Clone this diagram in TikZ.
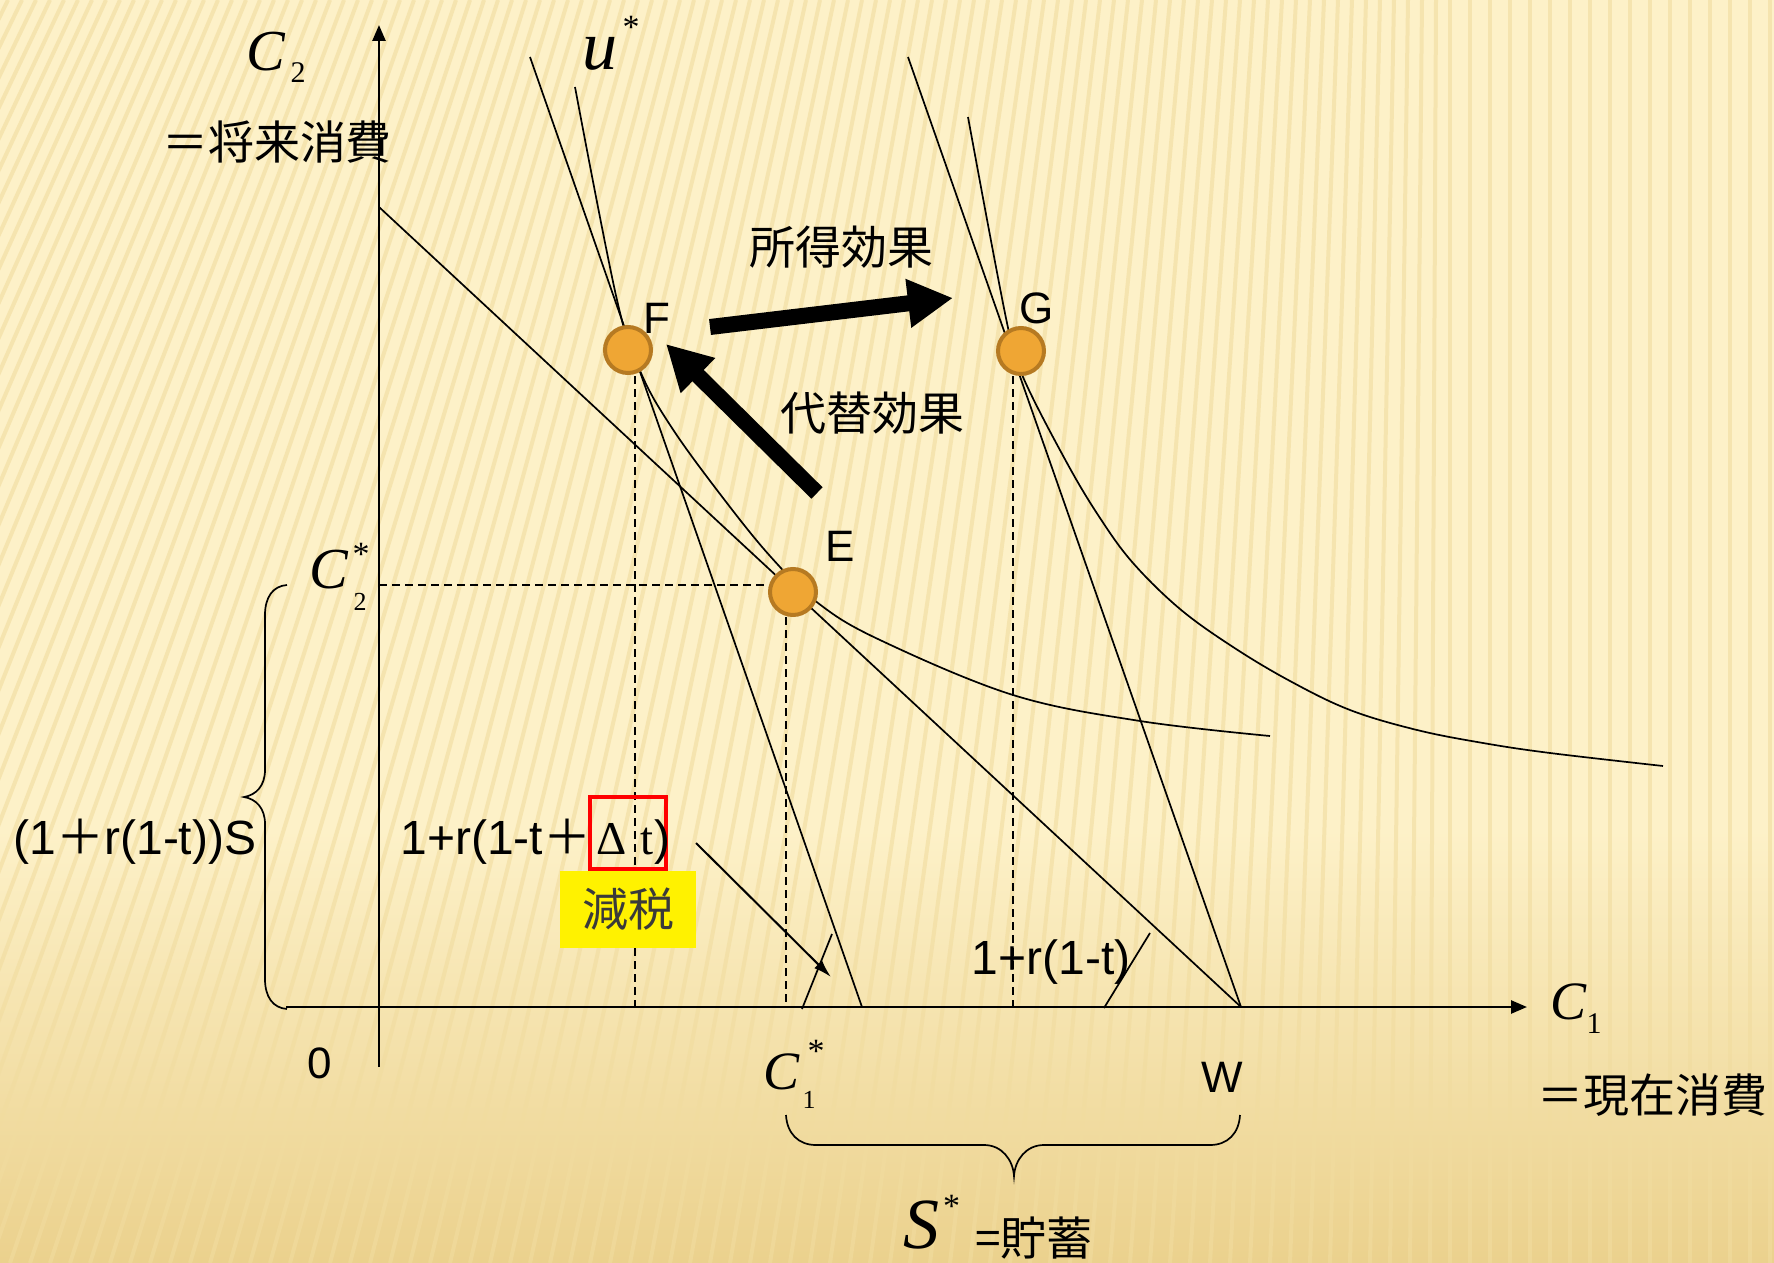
\documentclass[tikz,border=0pt]{standalone}
\usepackage{fontspec}
\usetikzlibrary{arrows.meta}
\newfontfamily\lsans{Liberation Sans}
\newfontfamily\lserif{Liberation Serif}
\newfontfamily\cjk{Noto Sans CJK JP}
\definecolor{bgA}{HTML}{FDF1C8}
\definecolor{bgB}{HTML}{EBD18D}
\definecolor{stripe}{HTML}{F1DC9F}
\definecolor{ptfill}{HTML}{EFA634}
\definecolor{ptedge}{HTML}{B67A22}
\definecolor{txtgray}{HTML}{3A3A3A}
\begin{document}
\begin{tikzpicture}[x=0.5pt,y=-0.5pt,
  thinline/.style={line width=0.85pt, black},
  axisline/.style={line width=1.3pt, -{Triangle[length=8pt,width=6.5pt]}},
  dashline/.style={line width=0.7pt, dash pattern=on 4pt off 2.5pt},
  bigarrow/.style={line width=8pt, -{Triangle[length=22.5pt,width=23pt]}},
  dot/.style={circle, fill=ptfill, draw=ptedge, line width=2pt, minimum size=23pt, inner sep=0pt},
  sanslbl/.style={inner sep=0pt, font=\lsans\fontsize{22}{26}\selectfont},
  formlbl/.style={inner sep=0pt, font=\lsans\fontsize{24}{28}\selectfont},
  cjklbl/.style={inner sep=0pt, font=\cjk\fontsize{23}{28}\selectfont},
  bigC/.style={inner sep=0pt, font=\lserif\itshape\fontsize{29}{34}\selectfont},
  midC/.style={inner sep=0pt, font=\lserif\itshape\fontsize{27}{32}\selectfont},
  ulbl/.style={inner sep=0pt, font=\lserif\itshape\fontsize{35}{40}\selectfont},
  Slbl/.style={inner sep=0pt, font=\lserif\itshape\fontsize{36}{40}\selectfont},
  sublbl/.style={inner sep=0pt, font=\lserif\fontsize{15}{18}\selectfont},
  smallsub/.style={inner sep=0pt, font=\lserif\fontsize{13}{16}\selectfont},
  starlbl/.style={inner sep=0pt, font=\lserif\fontsize{17}{20}\selectfont},
  serlbl/.style={inner sep=0pt, font=\lserif\fontsize{23.5}{28}\selectfont},
]
\useasboundingbox (0,0) rectangle (1774,1263);
% background
\begin{scope}
\clip (0,0) rectangle (1774,1263);
\fill[bgA] (0,0) rectangle (1774,1263);
\shade[top color=bgA, bottom color=bgB] (0,830) rectangle (1774,1263);
\foreach \i in {0,...,125} {
  \pgfmathsetmacro\xb{-650+20*\i}
  \pgfmathsetmacro\sh{630*max(0,min(1,(1450-\xb)/2100))}
  \draw[stripe, line width=2pt, opacity=0.6] (\xb,1263) -- (\xb+\sh,0);
}
\end{scope}

% axes
\coordinate (yb) at (379,1067); \coordinate (yt) at (379,25);
\coordinate (xl) at (286,1007); \coordinate (xr) at (1527,1007);
\draw[axisline] (yb) -- (yt);
\draw[axisline] (xl) -- (xr);

% budget lines
\coordinate (A0) at (379,207); \coordinate (W0) at (1241,1007);
\coordinate (Ac) at (530,57);  \coordinate (Bc) at (862,1007);
\coordinate (An) at (908,57);
\draw[thinline] (A0) -- (W0);
\draw[thinline] (Ac) -- (Bc);
\draw[thinline] (An) -- (W0);

% indifference curves
\draw[thinline] plot[smooth, tension=0.6] coordinates {
 (575,87) (617,300) (641,373) (672,428) (720,494) (770,556) (818,603)
 (880,640) (1013,695) (1140,721) (1270,736)};
\draw[thinline] plot[smooth, tension=0.6] coordinates {
 (968,117) (1007,323) (1023,377) (1067,463) (1100,518) (1133,563) (1180,609)
 (1233,647) (1290,681) (1350,710) (1417,730) (1483,743) (1550,753) (1663,766)};

% slope marks
\coordinate (m1a) at (802,1009); \coordinate (m1b) at (832,934);
\coordinate (m2a) at (1104,1008); \coordinate (m2b) at (1150,933);
\draw[thinline] (m1a) -- (m1b);
\draw[thinline] (m2a) -- (m2b);

% dashed guides
\coordinate (hL) at (379,585); \coordinate (hR) at (769,585);
\coordinate (fT) at (635,376); \coordinate (fB) at (635,1007);
\coordinate (eT) at (786,617); \coordinate (eB) at (786,1007);
\coordinate (gT) at (1013,376); \coordinate (gB) at (1013,1007);
\draw[dashline] (hL) -- (hR);
\draw[dashline] (fT) -- (fB);
\draw[dashline] (eT) -- (eB);
\draw[dashline] (gT) -- (gB);

% braces
\draw[thinline] (287,585) .. controls (273,586) and (265,597) .. (265,615) -- (265,770)
  .. controls (265,786) and (256,795) .. (244,797)
  .. controls (256,799) and (265,808) .. (265,824) -- (265,979)
  .. controls (265,997) and (273,1008) .. (287,1009);
\draw[thinline] (786,1115) .. controls (787,1133) and (798,1145) .. (816,1145) -- (984,1145)
  .. controls (1002,1145) and (1013,1160) .. (1014,1176)
  .. controls (1015,1160) and (1026,1145) .. (1044,1145) -- (1210,1145)
  .. controls (1228,1145) and (1239,1133) .. (1240,1115);

% points
\node[dot] (F) at (628,350) {};
\node[dot] (E) at (793,592) {};
\node[dot] (G) at (1021,351) {};

% effect arrows
\coordinate (ieS) at (710,327); \coordinate (ieT) at (953,298);
\draw[bigarrow] (ieS) -- (ieT);
\coordinate (seS) at (817,493); \coordinate (seT) at (666,344);
\draw[bigarrow] (seS) -- (seT);

% labels
\node[sanslbl] (Flbl) at (657,318) {F};
\node[sanslbl] (Elbl) at (840,546) {E};
\node[sanslbl] (Glbl) at (1037,308) {G};
\node[sanslbl] (Wlbl) at (1222,1077) {W};
\node[sanslbl] (Olbl) at (320,1063) {0};
\node[cjklbl] (ie) at (841,247) {所得効果};
\node[cjklbl] (se) at (872,413) {代替効果};
\node[cjklbl] (fut) at (277,142) {＝将来消費};
\node[cjklbl] (cur) at (1652,1095) {＝現在消費};

\node[formlbl] (lhs) at (135,842) {(1{\cjk ＋}r(1-t))S};
\node[formlbl] (rate) at (1051,962) {1+r(1-t)};

% tax cut formula
\node[cjklbl, fill=yellow, text=txtgray, minimum width=68pt, minimum height=38.5pt] (gen) at (628,909.5) {減税};
\node[draw=red, line width=2pt, minimum width=38pt, minimum height=36pt, inner sep=0pt] (rb) at (628,833) {};
\node[formlbl, anchor=west] (f1) at (400,842) {1+r(1-t{\cjk ＋}};
\node[serlbl] (dl) at (612,838.5) {Δ};
\node[serlbl] (tt) at (647,841) {t};
\node[formlbl] (rp) at (662,842) {)};
\coordinate (pa) at (696,843); \coordinate (pb) at (831,977);
\draw[line width=1pt, -{Latex[length=9pt,width=5.5pt]}] (pa) -- (pb);

% math labels
\node[bigC] (C2) at (266,52) {C};
\node[sublbl] (C2s) at (298,72.5) {2};
\node[ulbl] (u) at (600,54) {u};
\node[starlbl] (us) at (631,27) {*};
\node[bigC] (C2st) at (329,570) {C};
\node[starlbl] (C2sta) at (361,554) {*};
\node[smallsub] (C2stb) at (360,602) {2};
\node[midC] (C1st) at (782,1072) {C};
\node[starlbl] (C1sta) at (816,1051) {*};
\node[smallsub] (C1stb) at (809,1100) {1};
\node[midC] (C1) at (1568,1002) {C};
\node[sublbl] (C1s) at (1594,1024) {1};
\node[Slbl] (S) at (921,1225) {S};
\node[starlbl] (Sst) at (951.5,1206) {*};
\node[cjklbl] (sav) at (1034,1238) {=貯蓄};
\end{tikzpicture}
\end{document}
